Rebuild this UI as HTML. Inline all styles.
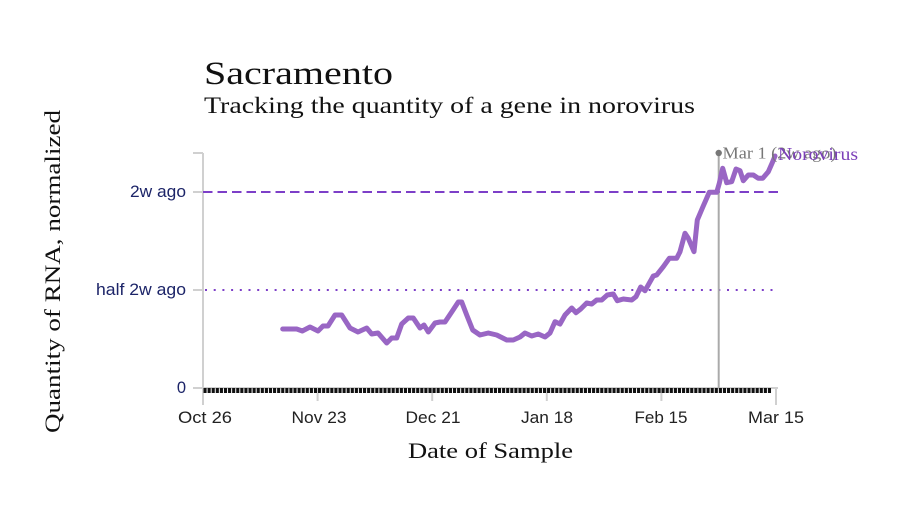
<!DOCTYPE html>
<html>
<head>
<meta charset="utf-8">
<style>
  html, body { margin:0; padding:0; background:#fff; }
  svg { display:block; }
  .serif { font-family: "Liberation Serif", serif; }
  .sans { font-family: "Liberation Sans", sans-serif; }
</style>
</head>
<body>
<svg width="898" height="528" viewBox="0 0 898 528" xmlns="http://www.w3.org/2000/svg">
  <rect width="898" height="528" fill="#fff"/>

  <!-- Titles -->
  <text class="serif" x="204" y="84" font-size="33" fill="#111" textLength="189" lengthAdjust="spacingAndGlyphs">Sacramento</text>
  <text class="serif" x="204" y="113" font-size="23" fill="#111" textLength="491" lengthAdjust="spacingAndGlyphs">Tracking the quantity of a gene in norovirus</text>

  <!-- Y axis label -->
  <text class="serif" transform="translate(60,433) rotate(-90)" x="0" y="0" font-size="22" fill="#111" textLength="323" lengthAdjust="spacingAndGlyphs">Quantity of RNA, normalized</text>

  <!-- X axis label -->
  <text class="serif" x="408" y="458" font-size="22" fill="#111" textLength="165" lengthAdjust="spacingAndGlyphs">Date of Sample</text>

  <!-- Y axis -->
  <g stroke="#d0d0d0" stroke-width="2" fill="none">
    <path d="M203,153 V405"/>
    <path d="M193,153 H203"/>
    <path d="M193,192 H203"/>
    <path d="M193,290 H203"/>
    <path d="M193,388 H203"/>
  </g>
  <g class="sans" font-size="16.5" fill="#1c2468" text-anchor="end">
    <text x="186" y="197" textLength="56" lengthAdjust="spacingAndGlyphs">2w ago</text>
    <text x="186" y="295" textLength="90" lengthAdjust="spacingAndGlyphs">half 2w ago</text>
    <text x="186" y="393">0</text>
  </g>

  <!-- X axis ticks -->
  <g stroke="#d0d0d0" stroke-width="2" fill="none">
    <path d="M203,388 H778"/>
    <path d="M317.6,388 V401"/>
    <path d="M432.2,388 V401"/>
    <path d="M546.8,388 V401"/>
    <path d="M661.4,388 V401"/>
    <path d="M776,388 V405"/>
  </g>
  <g class="sans" font-size="16.5" fill="#222" text-anchor="middle">
    <text x="205" y="423" textLength="54" lengthAdjust="spacingAndGlyphs">Oct 26</text>
    <text x="319" y="423" textLength="55" lengthAdjust="spacingAndGlyphs">Nov 23</text>
    <text x="433" y="423" textLength="55" lengthAdjust="spacingAndGlyphs">Dec 21</text>
    <text x="547" y="423" textLength="52" lengthAdjust="spacingAndGlyphs">Jan 18</text>
    <text x="661" y="423" textLength="53" lengthAdjust="spacingAndGlyphs">Feb 15</text>
    <text x="776" y="423" textLength="56" lengthAdjust="spacingAndGlyphs">Mar 15</text>
  </g>

  <!-- Daily bar -->
  <path d="M203.5,390.5 H772" stroke="#111" stroke-width="5" stroke-dasharray="3.1,0.99" fill="none"/>

  <!-- Reference lines -->
  <path d="M203,192 H780" stroke="#7d3fc8" stroke-width="2" stroke-dasharray="9.5,5" fill="none"/>
  <path d="M205,290 H776" stroke="#7d3fc8" stroke-width="2" stroke-dasharray="2,6.7" fill="none"/>

  <!-- Mar 1 marker -->
  <path d="M718.7,153 V388" stroke="#aaaaaa" stroke-width="2" fill="none"/>
  <circle cx="718.7" cy="153" r="3.2" fill="#777"/>

  <!-- Series -->
  <polyline fill="none" stroke="#9966c4" stroke-width="5" stroke-linejoin="round" stroke-linecap="round"
    points="282.7,329 296.7,329 302.3,331 310,327 318,331 323,326 328,326 335,315 341.7,315 350,328 358,332 366.7,328 371.7,334 378,333 386.7,343 391.7,338 396.7,338 401.7,324 408.3,318 413.3,318 420,328 424,325 428.3,332 435,323 440,322 445,322 451.7,312 458.3,302 461.7,302 466.7,315 472.7,330 480,335 488.3,333 496.7,335 506.7,340 513.3,340 520,337 525,333 531.7,336 538.3,334 545,337 550,333 555,321.7 560,324 565,315 571.7,308 576,312.7 580.7,309 586.7,303 591.7,304 596.7,300 601.7,300 607.3,295 613.3,294 617.3,300.7 623.3,299 631.7,300 636,296.7 640.7,287 645,290.7 653.3,276 656.7,275 663.3,266.7 669.3,258.3 676.7,258.3 680,251.7 685,233.3 688.3,238.3 694,251.7 697.3,220 702.7,207.3 709.3,192.3 716.7,192.3 719.3,183.3 722.7,168.3 726.7,182.7 731.7,181.7 736,169 740,170.7 743.3,180.7 748.3,175 753.3,175 758.3,178.3 762.7,178.3 768.3,171.7 772.7,161.7 775,156"/>

  <!-- Annotations -->
  <text class="serif" x="722.5" y="158.5" font-size="16.5" fill="#777" textLength="114" lengthAdjust="spacingAndGlyphs">Mar 1 (2w ago)</text>
  <text class="serif" x="778" y="160" font-size="17.5" fill="#7b3fb8" textLength="80" lengthAdjust="spacingAndGlyphs">Norovirus</text>
</svg>
</body>
</html>
